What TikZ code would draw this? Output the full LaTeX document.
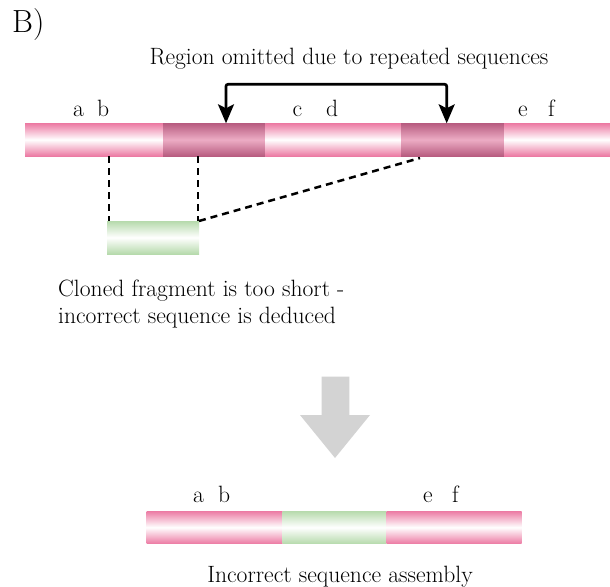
\documentclass[tikz,border=0pt]{standalone}
\usetikzlibrary{arrows.meta}
\definecolor{pinkE}{RGB}{236,122,163}
\definecolor{darkE}{RGB}{184,92,128}
\definecolor{darkM}{RGB}{236,172,196}
\definecolor{greenE}{RGB}{182,218,172}
\definecolor{arrowgray}{RGB}{211,211,211}
\tikzset{
  seg/.style={rectangle, inner sep=0pt, outer sep=0pt, minimum height=32.7pt, anchor=north west},
  lightseg/.style={seg, top color=pinkE, bottom color=pinkE, middle color=white},
  darkseg/.style={seg, top color=darkE, bottom color=darkE, middle color=darkM},
  greenseg/.style={seg, top color=greenE, bottom color=greenE, middle color=white},
  txt/.style={inner sep=0pt, font=\fontsize{23.6}{26.5}\selectfont},
  lbl/.style={txt, anchor=base west},
  bracket/.style={line width=2.7pt, rounded corners=2pt, {Stealth[length=19pt,width=16pt,inset=4pt]}-{Stealth[length=19pt,width=16pt,inset=4pt]}},
  dashline/.style={line width=2.5pt, dash pattern=on 7pt off 5pt},
  bigarrow/.style={fill=arrowgray, draw=none}
}
\begin{document}
\begin{tikzpicture}[x=1pt,y=-1pt]
\useasboundingbox (0,0) rectangle (610,586);
% panel label and title
\node[txt, anchor=base west, font=\fontsize{32}{34}\selectfont] (panel) at (12,33) {B)};
\node[txt, anchor=base] (title) at (349,64) {Region omitted due to repeated sequences};
% top bar
\node[lightseg, minimum width=138pt] (s1) at (25,123.3) {};
\node[darkseg, minimum width=102.7pt] (d1) at (163,123.3) {};
\node[lightseg, minimum width=135.3pt] (s2) at (265.7,123.3) {};
\node[darkseg, minimum width=103pt] (d2) at (401,123.3) {};
\node[lightseg, minimum width=106pt] (s3) at (504,123.3) {};
% letters top
\node[lbl] (la) at (73,116) {a};
\node[lbl] (lb) at (97,116) {b};
\node[lbl] (lc) at (292.5,116) {c};
\node[lbl] (ld) at (326,116) {d};
\node[lbl] (le) at (518,116) {e};
\node[lbl] (lf) at (548,116) {f};
% bracket arrow
\coordinate (ta) at (226,123.3);
\coordinate (tb) at (446.7,123.3);
\draw[bracket] (ta) -- ++(0,-39) -| (tb);
% cloned fragment
\node[greenseg, minimum width=92pt, minimum height=33pt] (g) at (107,221) {};
\coordinate (c1) at (109,156);
\coordinate (c2) at (198,156);
\coordinate (c3) at (420,158);
\draw[dashline] (c1) -- (c1 |- g.north);
\draw[dashline] (c2) -- (c2 |- g.north);
\draw[dashline] (g.north east) -- (c3);
\node[lbl, align=left] (clonetxt) at (58,323) {Cloned fragment is too short -\\incorrect sequence is deduced};
% big gray arrow
\path[bigarrow] (321.7,376.7) -- (349.3,376.7) -- (349.3,415) -- (370,415) -- (335,458) -- (300,415) -- (321.7,415) -- cycle;
% bottom bar
\node[lightseg, minimum width=136pt] (b1) at (146.7,511) {};
\node[greenseg, minimum width=104pt] (b2) at (282.7,511) {};
\node[lightseg, minimum width=135pt] (b3) at (386.7,511) {};
\node[lbl] (ba) at (193,502.7) {a};
\node[lbl] (bb) at (218,502.7) {b};
\node[lbl] (be) at (423,502.7) {e};
\node[lbl] (bf) at (452,502.7) {f};
\node[txt, anchor=base] (bottomtxt) at (340,582) {Incorrect sequence assembly};
\end{tikzpicture}
\end{document}
